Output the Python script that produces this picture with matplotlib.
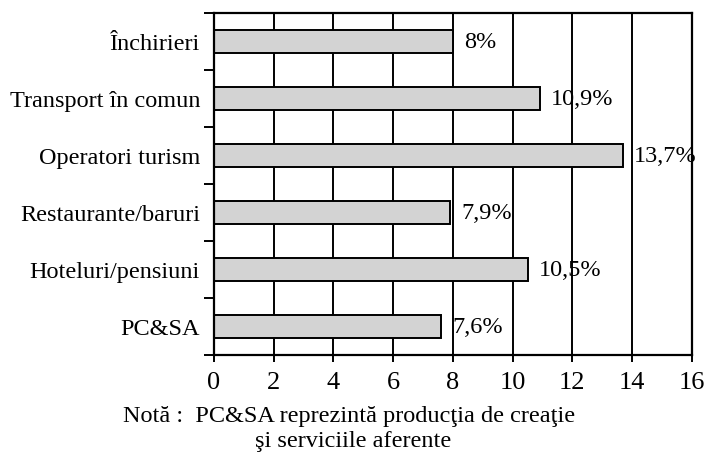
import numpy as np
import matplotlib
matplotlib.use("Agg")
import matplotlib.pyplot as plt

# data
categorii = ["Închirieri", "Transport în comun", "Operatori turism",
             "Restaurante/baruri", "Hoteluri/pensiuni", "PC&SA"]
valori = [8.0, 10.9, 13.7, 7.9, 10.5, 7.6]
etichete = ["8%", "10,9%", "13,7%", "7,9%", "10,5%", "7,6%"]
xticks = [0, 2, 4, 6, 8, 10, 12, 14, 16]

plt.rcParams["font.family"] = ["Liberation Serif", "DejaVu Serif"]

fig = plt.figure(figsize=(7.06, 4.53), dpi=100)
ax = fig.add_axes([0.303, 0.2163, 0.677, 0.755])

y = np.arange(len(categorii))
for xv in xticks:
    ax.axvline(xv, color="black", lw=1.4, zorder=2)
ax.barh(y, valori, height=0.4, color="#d3d3d3", edgecolor="black",
        lw=1.4, zorder=3)

for yi, v, t in zip(y, valori, etichete):
    ax.annotate(t, (v, yi), xytext=(8, -1), textcoords="offset points",
                va="center", ha="left", fontsize=17.5, zorder=1.5)

ax.set_xlim(0, 16)
ax.set_ylim(len(categorii) - 0.5, -0.5)
ax.set_xticks(xticks)
ax.set_xticklabels([str(v) for v in xticks], fontsize=19)
ax.set_yticks(y)
ax.set_yticklabels(categorii, fontsize=17.5)
ax.set_yticks(np.arange(-0.5, len(categorii)), minor=True)
ax.tick_params(axis="y", which="major", length=0, pad=10)
ax.tick_params(axis="y", which="minor", length=7, width=1.4, direction="out")
ax.tick_params(axis="x", length=5, width=1.4, direction="out", pad=7)

for s in ax.spines.values():
    s.set_linewidth(1.6)
    s.set_zorder(4)

fig.text(0.494, 0.08, "Notă :  PC&SA reprezintă producţia de creaţie",
         ha="center", va="center", fontsize=17.5)
fig.text(0.5, 0.025, "şi serviciile aferente",
         ha="center", va="center", fontsize=17.5)

fig.savefig("out.png", dpi=100)
